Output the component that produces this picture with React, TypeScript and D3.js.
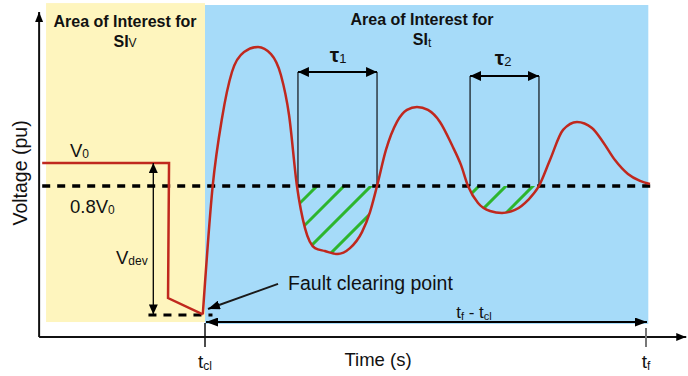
import React from 'react';
import * as d3 from 'd3';

const W = 688;
const H = 376;

// time (arbitrary units) and voltage (% of V0)
const T_CL = 150;
const T_F = 550;
const V0 = 100;
const V_THRESH = 86.8; // 0.8 V0 level
const V_FAULT = 12.6;

const preFaultT = [2, 117.3, 116.4, 148];
const preFaultV = [100, 100, 22.4, 13];

const postT = [148, 157, 165.5, 174.5, 185.5, 198.2, 210, 219, 226.4, 233.6, 240.9, 250, 259, 270, 281.8, 292.7, 300, 306.4, 314.5, 324.5, 333.6, 342.7, 352.7, 363.6, 374.5, 382.7, 389.1, 398.2, 409.1, 420, 431.8, 443.6, 453.6, 463.6, 475.5, 488.2, 501.8, 511.8, 522.7, 534.5, 545.5, 554.5];
const postV = [13, 86.8, 125.9, 152.3, 163.8, 166.7, 162.6, 150.6, 127.6, 86.8, 62.6, 51.1, 49.4, 47.7, 51.1, 60.3, 71.8, 86.8, 107.5, 123.6, 130.5, 132.2, 130.5, 123.6, 110.3, 98.9, 86.8, 77, 72.4, 71.3, 73, 78.7, 86.8, 101.7, 119, 123.6, 120.1, 112.1, 101.7, 93.7, 89.7, 87.9];

const tau1T = [234.5, 306.4];
const tau2T = [391, 453.6];
const tauArrowV = [152.3, 150];
const vdevT = 103;
const faultDashT = [98.6, 156.8];
const yellowT = [5.5, 150];
const yellowV = [8.6, 191.9];
const blueT = [150, 553];
const blueV = [7.5, 190.8];
const spanV = 8.6;
const threshT = [2, 560];

const tickT = [T_CL, T_F];
const tickSub = ['cl', 'f'];

const x = d3.scaleLinear().domain([0, 550]).range([40, 645]);
const y = d3.scaleLinear().domain([0, 100]).range([337, 163]);

const AX_T = -0.8;
const AX_TOP_V = 186.8;
const AX_END_T = 587.5;

const FONT = '"Liberation Sans", Arial, sans-serif';

export default function App() {
  const prePath = d3.line<number>().x((d, i) => x(preFaultT[i])).y((d, i) => y(preFaultV[i]))(preFaultT) || '';
  const postLine = d3.line<number>().x((d, i) => x(postT[i])).y((d, i) => y(postV[i])).curve(d3.curveMonotoneX);
  const postPath = postLine(postT) || '';
  const clipArea = d3.area<number>().x((d, i) => x(postT[i])).y0(y(V_THRESH)).y1((d, i) => y(postV[i])).curve(d3.curveMonotoneX)(postT) || '';

  const hatchC = d3.range(476, 760, 27);
  const yT = y(V_THRESH);

  const axX = x(AX_T);
  const axY = y(0);

  return (
    <svg width={W} height={H} style={{ position: 'fixed', left: 0, top: 0, display: 'block', background: '#fff' }} fontFamily={FONT}>
      <defs>
        <marker id="ahBig" viewBox="0 0 10 10" refX="10" refY="5" markerWidth="12" markerHeight="9" markerUnits="userSpaceOnUse" orient="auto-start-reverse" preserveAspectRatio="none">
          <path d="M0,0L10,5L0,10z" fill="#000" />
        </marker>
        <marker id="ahTau" viewBox="0 0 10 10" refX="10" refY="5" markerWidth="11" markerHeight="10" markerUnits="userSpaceOnUse" orient="auto-start-reverse" preserveAspectRatio="none">
          <path d="M0,0L10,5L0,10z" fill="#000" />
        </marker>
        <marker id="ahSmall" viewBox="0 0 10 10" refX="10" refY="5" markerWidth="10" markerHeight="9" markerUnits="userSpaceOnUse" orient="auto-start-reverse" preserveAspectRatio="none">
          <path d="M0,0L10,5L0,10z" fill="#000" />
        </marker>
        <marker id="ahAxis" viewBox="0 0 10 10" refX="10" refY="5" markerWidth="10" markerHeight="8" markerUnits="userSpaceOnUse" orient="auto" preserveAspectRatio="none">
          <path d="M0,0L10,5L0,10z" fill="#000" />
        </marker>
        <clipPath id="belowThresh">
          {[tau1T, tau2T].map((tt) => (
            <rect key={tt[0]} x={x(tt[0]) - 4} y={yT} width={x(tt[1]) - x(tt[0]) + 8} height={H - yT} />
          ))}
        </clipPath>
        <clipPath id="dipArea">
          <path d={clipArea} />
        </clipPath>
      </defs>

      {/* regions */}
      <rect x={x(yellowT[0])} y={y(yellowV[1])} width={x(yellowT[1]) - x(yellowT[0])} height={y(yellowV[0]) - y(yellowV[1])} fill="#FEF5BE" />
      <rect x={x(blueT[0])} y={y(blueV[1])} width={x(blueT[1]) - x(blueT[0])} height={y(blueV[0]) - y(blueV[1])} fill="#A6DBF9" />

      {/* hatch */}
      <g clipPath="url(#belowThresh)">
        <g clipPath="url(#dipArea)">
          {hatchC.map((c) => (
            <line key={c} x1={c - 170} y1={170} x2={c - 280} y2={280} stroke="#2DB52D" strokeWidth={3} />
          ))}
        </g>
      </g>

      {/* tau verticals */}
      {[tau1T, tau2T].map((tt, k) => (
        <g key={k}>
          {tt.map((t) => (
            <line key={t} x1={x(t)} x2={x(t)} y1={y(tauArrowV[k])} y2={yT} stroke="#34444f" strokeWidth={1.6} />
          ))}
          <line x1={x(tt[0])} x2={x(tt[1])} y1={y(tauArrowV[k])} y2={y(tauArrowV[k])} stroke="#000" strokeWidth={2} markerStart="url(#ahTau)" markerEnd="url(#ahTau)" />
        </g>
      ))}

      {/* threshold dashed line */}
      <line x1={x(threshT[0])} x2={x(threshT[1])} y1={yT} y2={yT} stroke="#000" strokeWidth={3.5} strokeDasharray="8 7" />
      {/* fault level dashed */}
      <line x1={x(faultDashT[0])} x2={x(faultDashT[1])} y1={y(V_FAULT)} y2={y(V_FAULT)} stroke="#000" strokeWidth={3} strokeDasharray="8 7" />

      {/* voltage curve */}
      <path d={prePath} fill="none" stroke="#C0281E" strokeWidth={2.5} strokeLinejoin="miter" />
      <path d={postPath} fill="none" stroke="#C0281E" strokeWidth={2.5} />

      {/* Vdev arrow */}
      <line x1={x(vdevT)} x2={x(vdevT)} y1={y(V0)} y2={y(13)} stroke="#000" strokeWidth={1.3} markerStart="url(#ahSmall)" markerEnd="url(#ahSmall)" />

      {/* tf - tcl arrow */}
      <line x1={x(T_CL) + 1} x2={x(T_F) + 2} y1={y(spanV)} y2={y(spanV)} stroke="#000" strokeWidth={2} markerStart="url(#ahBig)" markerEnd="url(#ahBig)" />

      {/* fault clearing arrow */}
      <line x1={x(216.4)} y1={y(30.5)} x2={x(152.7)} y2={y(16.1)} stroke="#1a1a1a" strokeWidth={2} markerEnd="url(#ahBig)" />

      {/* axes */}
      <line x1={axX} x2={axX} y1={axY} y2={y(AX_TOP_V)} stroke="#111" strokeWidth={2} markerEnd="url(#ahAxis)" />
      <line x1={axX} x2={x(AX_END_T)} y1={axY} y2={axY} stroke="#111" strokeWidth={2} markerEnd="url(#ahAxis)" />
      <line x1={x(tickT[0])} x2={x(tickT[0])} y1={axY - 14} y2={axY + 10} stroke="#111" strokeWidth={1.5} />
      <line x1={x(tickT[1]) + 1} x2={x(tickT[1]) + 1} y1={axY - 9} y2={axY + 10} stroke="#777" strokeWidth={2} />

      {/* tick labels */}
      {tickT.map((t, i) => (
        <text key={t} x={x(t) + (i === 0 ? 0 : 1)} y={axY + 31} fontSize={19} textAnchor="middle" fill="#111">
          t<tspan fontSize={12} dy={2}>{tickSub[i]}</tspan>
        </text>
      ))}
      <text x={x(307.3)} y={axY + 29} fontSize={18.5} textAnchor="middle" fill="#111">Time (s)</text>
      <text transform={`translate(27,${y(94.3)}) rotate(-90)`} fontSize={19.5} textAnchor="middle" fill="#111">Voltage (pu)</text>

      {/* titles */}
      <g fontWeight="bold" fontSize={16} fill="#111" textAnchor="middle">
        <text x={x(77.3)} y={y(178.2)}>Area of Interest for</text>
        <text x={x(77.3)} y={y(166.7)}>SI<tspan fontWeight="normal" fontSize={12}>V</tspan></text>
        <text x={x(347.3)} y={y(179.3)}>Area of Interest for</text>
        <text x={x(347.3)} y={y(167.8)}>SI<tspan fontWeight="normal" fontSize={12} dy={2}>t</tspan></text>
      </g>

      {/* annotation labels */}
      <text x={x(27.3)} y={y(103.4)} fontSize={18.5} fill="#111">V<tspan fontSize={12} dy={1}>0</tspan></text>
      <text x={x(27.3)} y={y(71.3)} fontSize={18.5} fill="#111">0.8V<tspan fontSize={12} dy={1}>0</tspan></text>
      <text x={x(69.1)} y={y(42)} fontSize={18.5} fill="#111">V<tspan fontSize={12} dy={1}>dev</tspan></text>
      <text x={x(225.5)} y={y(27)} fontSize={19.5} fill="#111">Fault clearing point</text>
      <text x={x(394.5)} y={y(10.9)} fontSize={17} textAnchor="middle" fill="#111">t<tspan fontSize={11} dy={2}>f</tspan><tspan dy={-2}> - t</tspan><tspan fontSize={11} dy={2}>cl</tspan></text>
      <text x={x(263.5)} y={y(158)} fontSize={21} fontWeight="bold" fill="#111">τ<tspan fontSize={13} fontWeight="normal" dy={1}>1</tspan></text>
      <text x={x(413.5)} y={y(156.3)} fontSize={21} fontWeight="bold" fill="#111">τ<tspan fontSize={13} fontWeight="normal" dy={1}>2</tspan></text>
    </svg>
  );
}
